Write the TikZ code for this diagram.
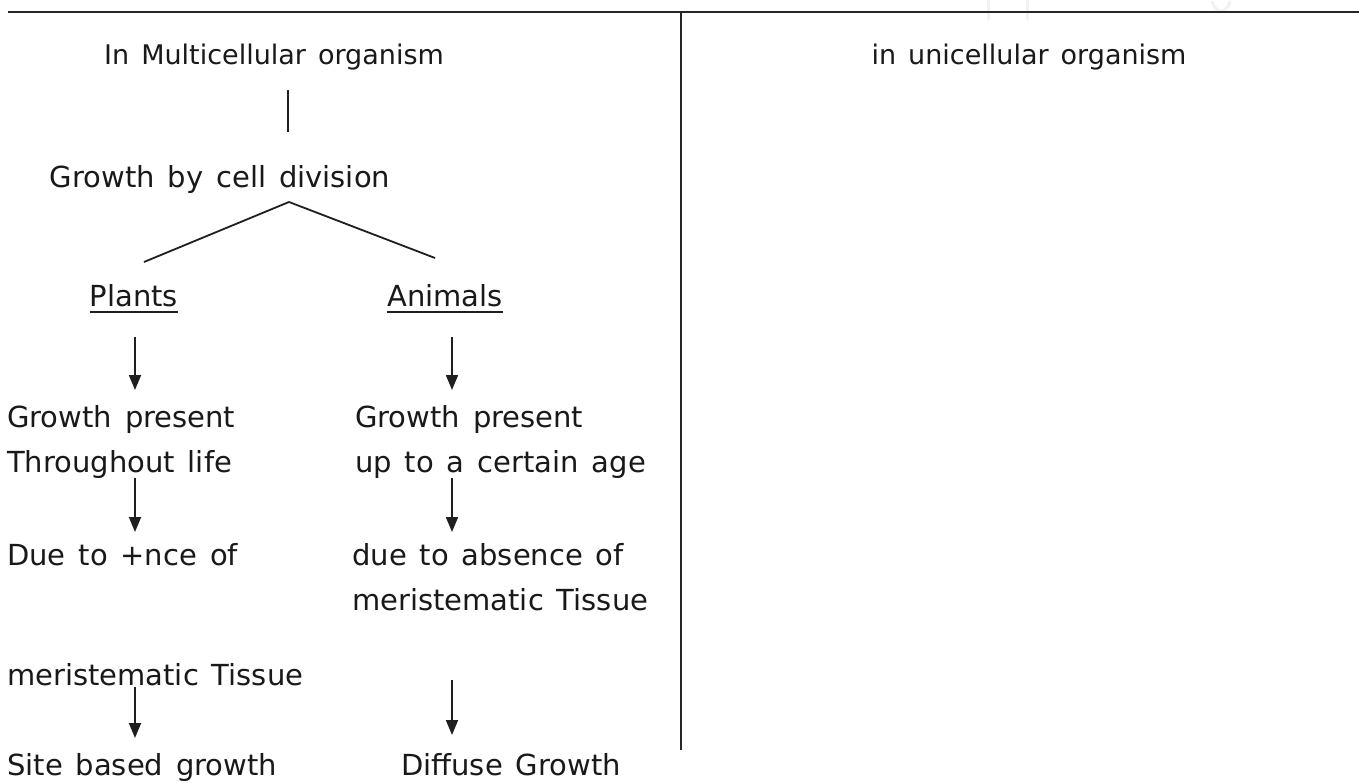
\documentclass[tikz,border=0pt]{standalone}
\usepackage{fontspec}
\setmainfont{DejaVu Sans}[WordSpace=1.4]
\usetikzlibrary{arrows.meta,calc}
\begin{document}
\begin{tikzpicture}[x=1pt,y=-1pt,
  txt/.style={inner sep=0pt, font=\fontsize{29}{33}\selectfont, text=black!90},
  ttl/.style={txt, font=\fontsize{27}{31}\selectfont},
  lw/.style={line width=1.8pt, draw=black!88},
  ul/.style={line width=1.6pt, draw=black!88},
  arr/.style={lw, -{Triangle[length=15pt,width=12pt]}},
  faint/.style={line width=3pt, draw=black!5, line cap=round}
]
\fill[white] (0,0) rectangle (1359,783);
\useasboundingbox (0,0) rectangle (1359,783);

% faint remnants above the top rule
\draw[faint] (988,0) -- (988,19);
\draw[faint] (1027,0) -- (1027,19);
\draw[faint] (1212,2) .. controls (1216,14) and (1226,14) .. (1230,2);

% frame lines
\draw[line width=2.2pt, draw=black!85] (8,12) -- (1359,12);
\draw[line width=2pt, draw=black!85] (681,12) -- (681,750);

% texts
\node[ttl, anchor=base] (tL) at (274,65) {In Multicellular organism};
\node[ttl, anchor=base] (tR) at (1029,65) {in unicellular organism};
\node[txt, anchor=base] (gbcd) at (220,188) {Growth by cell division};
\node[txt, anchor=base] (plants) at (134,307) {Plants};
\node[txt, anchor=base] (animals) at (445,307) {Animals};

\node[txt, anchor=base west] (gpL1) at (7,427) {Growth present};
\node[txt, anchor=base west] (gpL2) at (7,472) {Throughout life};
\node[txt, anchor=base west] (dueL) at (7,565) {Due to +nce of};
\node[txt, anchor=base west] (merL) at (7,685) {meristematic Tissue};
\node[txt, anchor=base west] (siteL) at (7,775) {Site based growth};

\node[txt, anchor=base west] (gpR1) at (355,427) {Growth present};
\node[txt, anchor=base west] (gpR2) at (355,472) {up to a certain age};
\node[txt, anchor=base west] (dueR) at (352,565) {due to absence of};
\node[txt, anchor=base west] (merR) at (352,610) {meristematic Tissue};
\node[txt, anchor=base west] (diff) at (401,775) {Diffuse Growth};

% underlines
\draw[ul] ([yshift=-5pt]plants.base west) -- ([yshift=-5pt]plants.base east);
\draw[ul] ([yshift=-5pt]animals.base west) -- ([yshift=-5pt]animals.base east);

% connectors
\draw[lw] ($(tL.base)+(14pt,-25pt)$) -- ($(gbcd.base)+(68pt,56pt)$);
\coordinate (apex) at ($(gbcd.base)+(69pt,-14pt)$);
\draw[lw] (apex) -- ($(plants.base)+(10pt,45pt)$);
\draw[lw] (apex) -- ($(animals.base)+(-10pt,49pt)$);

\draw[arr] ($(plants.base)+(1pt,-30pt)$) -- ($(plants.base |- gpL1.base)+(1pt,37pt)$);
\draw[arr] ($(plants.base |- gpL2.base)+(1pt,-6pt)$) -- ($(plants.base |- dueL.base)+(1pt,33pt)$);
\draw[arr] ($(plants.base |- merL.base)+(1pt,-2pt)$) -- ($(plants.base |- siteL.base)+(1pt,37pt)$);

\draw[arr] ($(animals.base)+(7pt,-30pt)$) -- ($(animals.base |- gpR1.base)+(7pt,37pt)$);
\draw[arr] ($(animals.base |- gpR2.base)+(7pt,-6pt)$) -- ($(animals.base |- dueR.base)+(7pt,33pt)$);
\draw[arr] ($(animals.base |- merR.base)+(7pt,-70pt)$) -- ($(animals.base |- diff.base)+(7pt,40pt)$);
\end{tikzpicture}
\end{document}
